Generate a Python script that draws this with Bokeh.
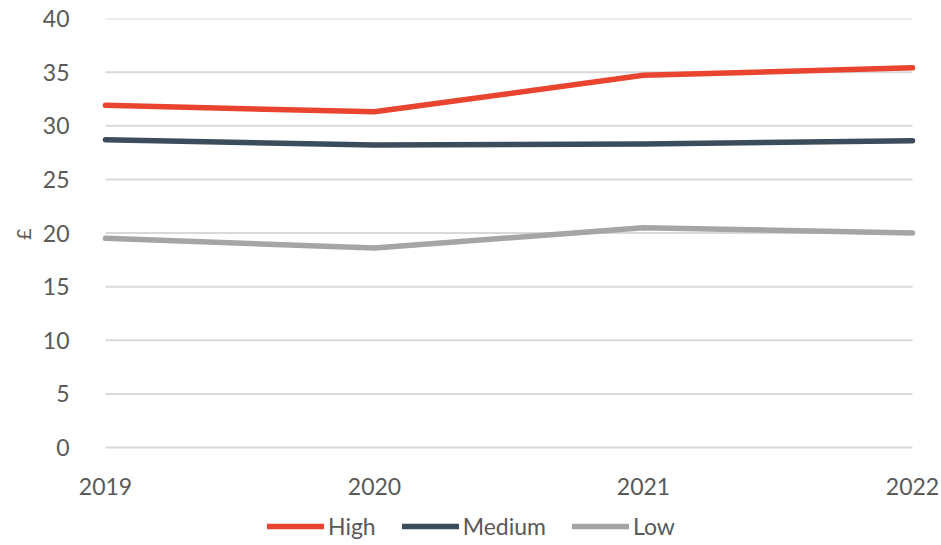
from bokeh.plotting import figure
from bokeh.models import Range1d, FixedTicker, Legend, LegendItem, Title
from bokeh.embed import file_html
from bokeh.resources import INLINE

years = [2019, 2020, 2021, 2022]
high = [31.9, 31.3, 34.7, 35.4]
medium = [28.7, 28.2, 28.3, 28.6]
low = [19.5, 18.6, 20.5, 20.0]
series_names = ["High", "Medium", "Low"]
colors = ["#E8442F", "#3B4D5C", "#A5A5A5"]
y_ticks = [0, 5, 10, 15, 20, 25, 30, 35, 40]

FONT = "Lato"
TXT = "#595959"

# frame extends below y=0 to hold the legend; x axis is pinned at y=0
Y_TOP = 40
Y_BOTTOM = -95 * 40 / 429
X_PAD = 28 * 3 / 807  # room so the end year labels are not clipped

p = figure(frame_width=863, frame_height=524, output_backend="svg", toolbar_location=None,
           x_range=Range1d(years[0] - X_PAD, years[-1] + X_PAD), y_range=Range1d(Y_BOTTOM, Y_TOP),
           min_border_left=77, min_border_right=0, min_border_top=18, min_border_bottom=0)

p.outline_line_color = None
p.xgrid.grid_line_color = None
p.ygrid.grid_line_color = None

# horizontal gridlines spanning the year range only
p.segment(x0=[years[0]] * len(y_ticks), x1=[years[-1]] * len(y_ticks), y0=y_ticks, y1=y_ticks,
          line_color="#D9D9D9", line_width=2)

p.yaxis.ticker = FixedTicker(ticks=y_ticks)
p.xaxis.ticker = FixedTicker(ticks=years)
p.xaxis.fixed_location = 0
for ax in (p.xaxis[0], p.yaxis[0]):
    ax.axis_line_color = None
    ax.major_tick_line_color = None
    ax.minor_tick_line_color = None
    ax.major_label_text_font = FONT
    ax.major_label_text_font_size = "23px"
    ax.major_label_text_color = TXT
p.yaxis.major_label_standoff = 2
p.xaxis.major_label_standoff = 24

ylab = Title(text="£", align="right", offset=210, text_font=FONT, text_font_size="20px",
             text_font_style="normal", text_color=TXT)
p.add_layout(ylab, "left")

items = []
for name, vals, c in zip(series_names, [high, medium, low], colors):
    r = p.line(years, vals, line_color=c, line_width=5.5, line_cap="round", line_join="round")
    items.append(LegendItem(label=name, renderers=[r]))

legend = Legend(items=items, orientation="horizontal", location=(190, 2),
                label_text_font=FONT, label_text_font_size="23px", label_text_color=TXT,
                glyph_width=57, glyph_height=22, label_standoff=4, spacing=26,
                border_line_color=None, background_fill_alpha=0, padding=0, margin=0)
p.add_layout(legend, "center")

open("out.html", "w").write(file_html(p, INLINE))
